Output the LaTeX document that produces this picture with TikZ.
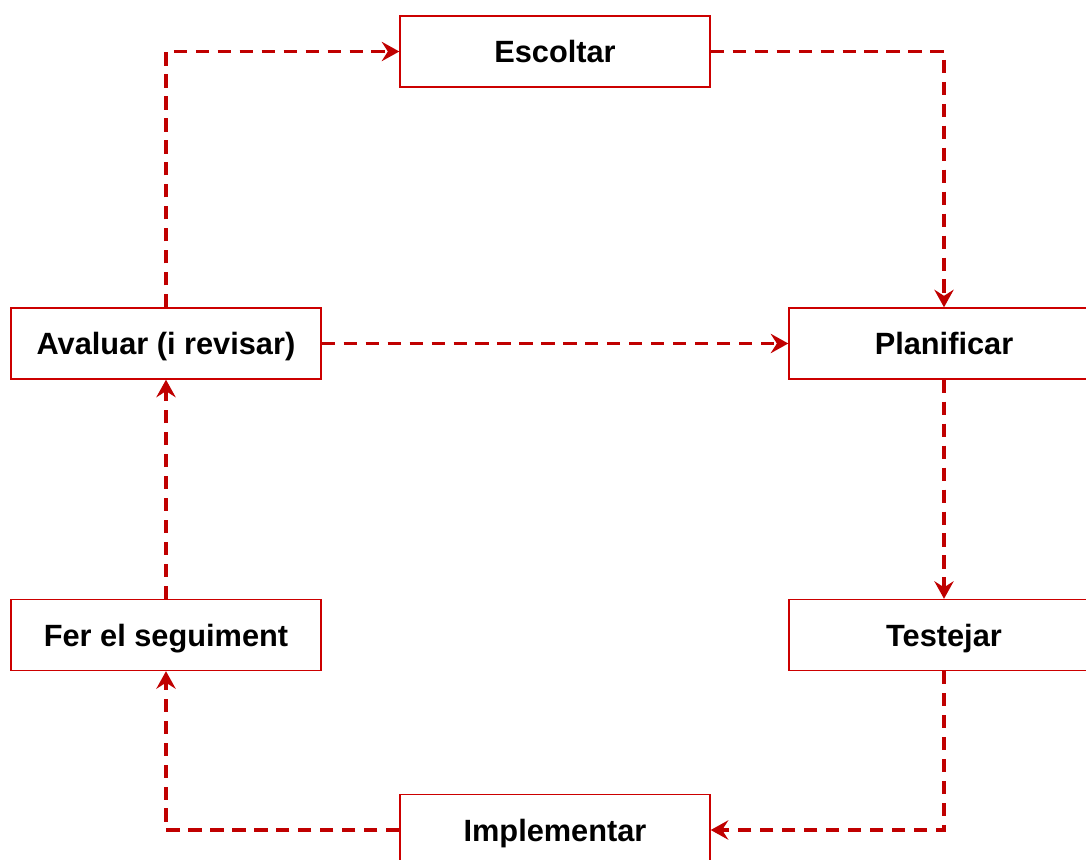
\documentclass[tikz,border=0pt]{standalone}
\usepackage{fontspec}
\setmainfont{Liberation Sans}
\usetikzlibrary{positioning,arrows.meta}

\definecolor{boxred}{RGB}{204,0,0}
\definecolor{flowred}{RGB}{192,0,0}

\begin{document}
\begin{tikzpicture}[node distance=7.78cm,on grid,
    stepbox/.style={draw=boxred,line width=0.8pt,minimum width=6.2cm,minimum height=1.42cm,
      text height=12.8pt,text depth=0pt,font=\fontsize{17.5}{21}\selectfont\bfseries},
    flow/.style={draw=flowred,line width=2pt,dash pattern=on 7.5pt off 5pt,
      -{Stealth[length=10pt,width=11pt,inset=3.5pt]}}]
    \useasboundingbox (-3.32,6.87) rectangle (18.4,-10.31);
    \node[stepbox] (avaluar)                                     {Avaluar (i revisar)};
    \node[stepbox] (escoltar)    [above right=5.84cm and 7.78cm of avaluar] {Escoltar};
    \node[stepbox] (planificar)  [right=15.56cm of avaluar]      {Planificar};
    \node[stepbox] (testejar)    [below=5.83cm of planificar]    {Testejar};
    \node[stepbox] (seguiment)   [below=5.83cm of avaluar]       {Fer el seguiment};
    \node[stepbox] (implementar) [below right=3.9cm and 7.78cm of seguiment] {Implementar};
    \draw[flow] (avaluar) |- (escoltar);
    \draw[flow] (escoltar) -| (planificar);
    \draw[flow] (avaluar) -- (planificar);
    \draw[flow] (planificar) -- (testejar);
    \draw[flow] (testejar) |- (implementar);
    \draw[flow] (implementar) -| (seguiment);
    \draw[flow] (seguiment) -- (avaluar);
    % \draw[flow] (planificar) -- (avaluar);
\end{tikzpicture}
\end{document}
